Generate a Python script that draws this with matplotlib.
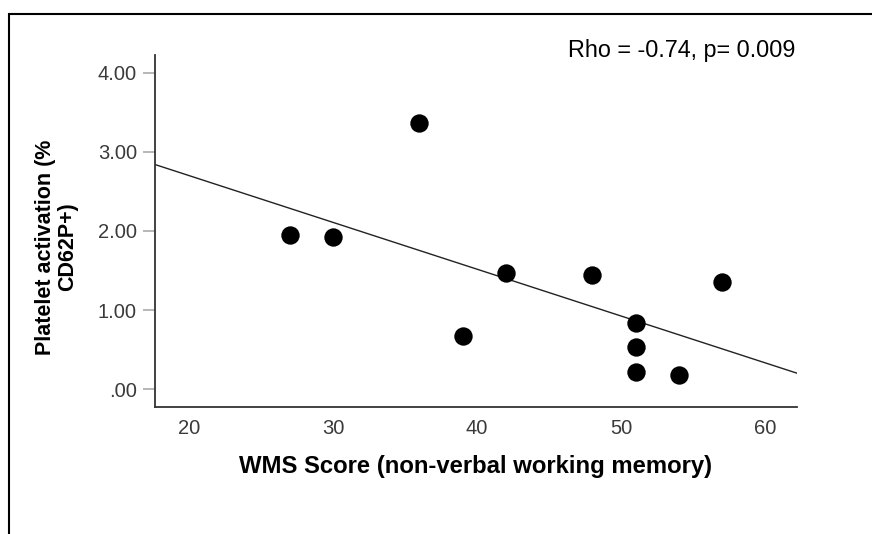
import matplotlib
matplotlib.use("Agg")
import matplotlib.pyplot as plt
import numpy as np
from matplotlib.patches import Rectangle

plt.rcParams["font.family"] = ["Liberation Sans", "DejaVu Sans"]

# WMS score vs platelet activation
wms_score = [27, 30, 36, 39, 42, 48, 51, 51, 51, 54, 57]
platelet_act = [1.95, 1.93, 3.37, 0.68, 1.47, 1.45, 0.84, 0.53, 0.22, 0.18, 1.35]
x_ticks = [20, 30, 40, 50, 60]
y_ticks = [0, 1, 2, 3, 4]
y_ticklabels = [".00", "1.00", "2.00", "3.00", "4.00"]

W, H = 872, 534
fig = plt.figure(figsize=(W / 100, H / 100), dpi=100)
ax = fig.add_axes([155 / W, 1 - 407 / H, (797 - 155) / W, (407 - 55) / H])

ax.scatter(wms_score, platelet_act, s=175, color="black", zorder=3, linewidths=0)

# linear fit line across the full x range
xlim = (17.65, 62.2)
slope, icpt = np.polyfit(wms_score, platelet_act, 1)
xs = np.array(xlim)
ax.plot(xs, slope * xs + icpt, color="#222222", linewidth=1.0, zorder=2)

ax.set_xlim(xlim)
ax.set_ylim(-0.223, 4.223)
ax.set_xticks(x_ticks)
ax.set_yticks(y_ticks)
ax.set_yticklabels(y_ticklabels)

for s in ["top", "right"]:
    ax.spines[s].set_visible(False)
for s in ["left", "bottom"]:
    ax.spines[s].set_color("#333333")
    ax.spines[s].set_linewidth(1.3)

ax.tick_params(axis="y", direction="out", length=9, width=1.2, color="#aaaaaa",
               labelsize=14.5, labelcolor="#3a3a3a", pad=4)
ax.tick_params(axis="x", length=0, labelsize=14.5, labelcolor="#3a3a3a", pad=9)

ax.set_xlabel("WMS Score (non-verbal working memory)", fontsize=17.2,
              fontweight="bold", labelpad=12)
ax.set_ylabel("Platelet activation (%\nCD62P+)", fontsize=15.5,
              fontweight="bold", linespacing=1.05)
ax.yaxis.set_label_coords(-0.12, 0.455)

fig.text(795 / W, 1 - 51 / H, "Rho = -0.74, p= 0.009", fontsize=16.8,
         ha="right", va="center", color="black")

# outer frame around the chart
frame = Rectangle((9 / W, -0.2), 1.5, 1 - 14 / H + 0.2, transform=fig.transFigure,
                  fill=False, edgecolor="black", linewidth=1.5)
fig.add_artist(frame)

fig.savefig("out.png", dpi=100)
